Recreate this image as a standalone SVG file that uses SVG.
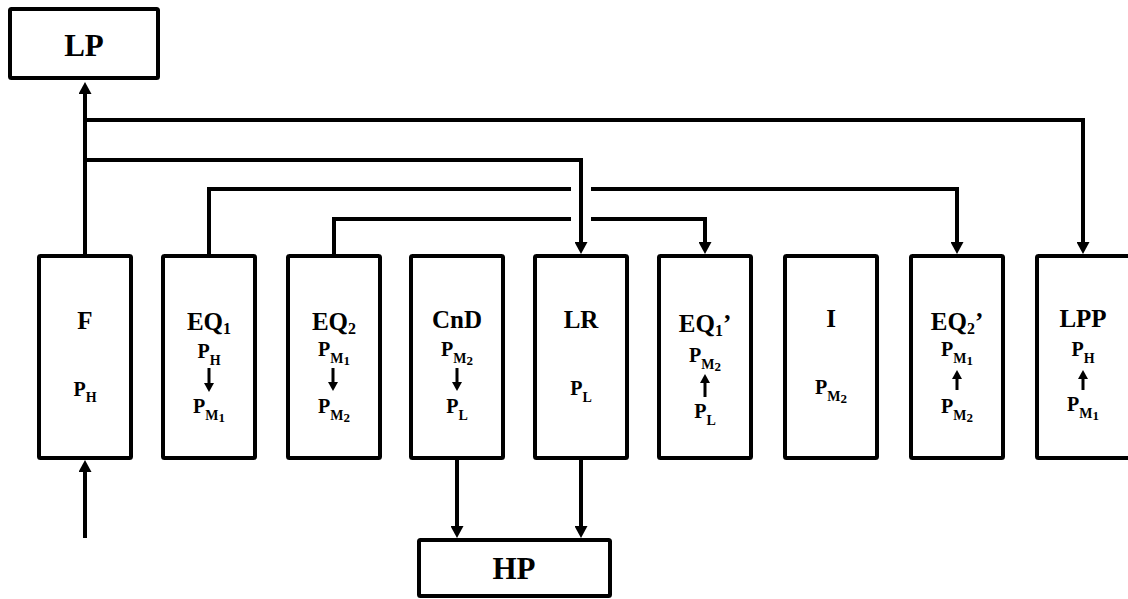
<svg xmlns="http://www.w3.org/2000/svg" width="1128" height="599" viewBox="0 0 1128 599">
  <style>
    .box{fill:#fff;stroke:#000;stroke-width:4}
    .t{font-family:'Liberation Serif','Times New Roman',Tinos,'Nimbus Roman','DejaVu Serif',serif;font-weight:bold;text-anchor:middle;fill:#000}
    .big{font-size:31px}
    .ti{font-size:25px}
    .tsub{font-size:16px}
    .p{font-size:20px}
    .s{font-size:14px}
    .ss{font-size:13px}
    .wire{fill:none;stroke:#000;stroke-width:4}
    .inner{fill:none;stroke:#000;stroke-width:3}
  </style>
  <defs>
    <marker id="ah" viewBox="0 0 12 13" refX="2" refY="6.5" markerWidth="12" markerHeight="13" markerUnits="userSpaceOnUse" orient="auto">
      <path d="M0,0 L12,6.5 L0,13 z" fill="#000"/>
    </marker>
    <marker id="sh" viewBox="0 0 9 10" refX="1" refY="5" markerWidth="9" markerHeight="10" markerUnits="userSpaceOnUse" orient="auto">
      <path d="M0,0 L9,5 L0,10 z" fill="#000"/>
    </marker>
  </defs>

  <!-- connectors -->
  <g id="connectors">
    <!-- F to LP -->
    <path class="wire" d="M85,256 V92" marker-end="url(#ah)"/>
    <!-- feed into F -->
    <path class="wire" d="M85,538 V470" marker-end="url(#ah)"/>
    <!-- branch to LPP -->
    <path class="wire" d="M85,120 H1083 V244" marker-end="url(#ah)"/>
    <!-- branch to LR -->
    <path class="wire" d="M85,160 H581 V244" marker-end="url(#ah)"/>
    <!-- EQ1 to EQ2' (hops over LR line) -->
    <path class="wire" d="M209,256 V189 H571 M591,189 H957 V244" marker-end="url(#ah)"/>
    <!-- EQ2 to EQ1' (hops over LR line) -->
    <path class="wire" d="M334,256 V219 H571 M591,219 H705 V244" marker-end="url(#ah)"/>
    <!-- CnD and LR to HP -->
    <path class="wire" d="M457,458 V528" marker-end="url(#ah)"/>
    <path class="wire" d="M581,458 V528" marker-end="url(#ah)"/>
  </g>

  <g id="LP">
    <rect class="box" x="10" y="9" width="148" height="69" rx="1.5"/>
    <text class="t big" x="84" y="56">LP</text>
  </g>

  <g id="HP">
    <rect class="box" x="419" y="540" width="191" height="56" rx="1.5"/>
    <text class="t big" x="514" y="579">HP</text>
  </g>

  <g id="F">
    <rect class="box" x="39" y="256" width="92" height="202" rx="1.5"/>
    <text class="t ti" x="85" y="329">F</text>
    <text class="t p" x="85" y="396">P<tspan class="s" dy="6">H</tspan></text>
  </g>

  <g id="EQ1">
    <rect class="box" x="163" y="256" width="92" height="202" rx="1.5"/>
    <text class="t ti" x="209" y="330">EQ<tspan class="tsub" dy="3.5">1</tspan></text>
    <text class="t p" x="209" y="358">P<tspan class="s" dy="6.5">H</tspan></text>
    <path class="inner" d="M209,368 V384" marker-end="url(#sh)"/>
    <text class="t p" x="209" y="413">P<tspan class="s" dy="7">M</tspan><tspan class="ss" dy="1.5">1</tspan></text>
  </g>

  <g id="EQ2">
    <rect class="box" x="288" y="256" width="92" height="202" rx="1.5"/>
    <text class="t ti" x="334" y="330">EQ<tspan class="tsub" dy="3.5">2</tspan></text>
    <text class="t p" x="334" y="356">P<tspan class="s" dy="7">M</tspan><tspan class="ss" dy="1.5">1</tspan></text>
    <path class="inner" d="M333,368 V383" marker-end="url(#sh)"/>
    <text class="t p" x="334" y="413">P<tspan class="s" dy="7">M</tspan><tspan class="ss" dy="1.5">2</tspan></text>
  </g>

  <g id="CnD">
    <rect class="box" x="411" y="256" width="92" height="202" rx="1.5"/>
    <text class="t ti" x="457" y="328">CnD</text>
    <text class="t p" x="457" y="356">P<tspan class="s" dy="7">M</tspan><tspan class="ss" dy="1.5">2</tspan></text>
    <path class="inner" d="M457,368 V383" marker-end="url(#sh)"/>
    <text class="t p" x="457" y="413">P<tspan class="s" dy="6.5">L</tspan></text>
  </g>

  <g id="LR">
    <rect class="box" x="535" y="256" width="92" height="202" rx="1.5"/>
    <text class="t ti" x="581" y="328">LR</text>
    <text class="t p" x="581" y="395">P<tspan class="s" dy="6.5">L</tspan></text>
  </g>

  <g id="EQ1p">
    <rect class="box" x="659" y="256" width="92" height="202" rx="1.5"/>
    <text class="t ti" x="705" y="332">EQ<tspan class="tsub" dy="3.5">1</tspan><tspan dy="-3.5">’</tspan></text>
    <text class="t p" x="705" y="362">P<tspan class="s" dy="7">M</tspan><tspan class="ss" dy="1.5">2</tspan></text>
    <path class="inner" d="M705,397 V382" marker-end="url(#sh)"/>
    <text class="t p" x="705" y="418">P<tspan class="s" dy="6.5">L</tspan></text>
  </g>

  <g id="I">
    <rect class="box" x="785" y="256" width="92" height="202" rx="1.5"/>
    <text class="t ti" x="831" y="327">I</text>
    <text class="t p" x="831" y="394">P<tspan class="s" dy="7">M</tspan><tspan class="ss" dy="1.5">2</tspan></text>
  </g>

  <g id="EQ2p">
    <rect class="box" x="911" y="256" width="92" height="202" rx="1.5"/>
    <text class="t ti" x="957" y="330">EQ<tspan class="tsub" dy="3.5">2</tspan><tspan dy="-3.5">’</tspan></text>
    <text class="t p" x="957" y="356">P<tspan class="s" dy="7">M</tspan><tspan class="ss" dy="1.5">1</tspan></text>
    <path class="inner" d="M957,390 V378" marker-end="url(#sh)"/>
    <text class="t p" x="957" y="413">P<tspan class="s" dy="7">M</tspan><tspan class="ss" dy="1.5">2</tspan></text>
  </g>

  <g id="LPP">
    <rect class="box" x="1037" y="256" width="96" height="202" rx="1.5"/>
    <text class="t ti" x="1083" y="327">LPP</text>
    <text class="t p" x="1083" y="356">P<tspan class="s" dy="6.5">H</tspan></text>
    <path class="inner" d="M1083,390 V378" marker-end="url(#sh)"/>
    <text class="t p" x="1083" y="411">P<tspan class="s" dy="7">M</tspan><tspan class="ss" dy="1.5">1</tspan></text>
  </g>
</svg>
